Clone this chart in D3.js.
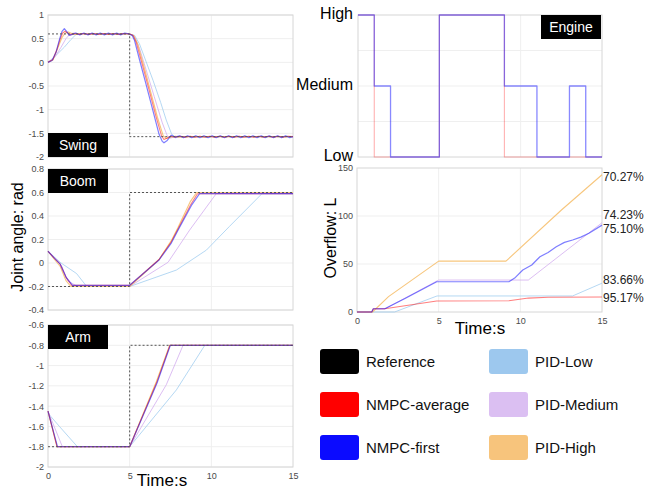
<!DOCTYPE html>
<html>
<head>
<meta charset="utf-8">
<script src="https://cdn.jsdelivr.net/npm/d3@7"></script>
<style>
    html, body { margin: 0; padding: 0; background: #fff; }
    svg { display: block; font-family: "Liberation Sans", Arial, sans-serif; }
    .tick text { fill: #4a4a4a; font-size: 9px; }
    .box { fill: none; stroke: #d6d6d6; stroke-width: 1; }
    .grid line { stroke: #efefef; stroke-width: 1; }
</style>
</head>
<body>
<svg id="chart" width="647" height="491"></svg>
<script>
// ============================================================
// DATI
// ============================================================
const SERIES = ["Reference", "NMPC-average", "NMPC-first", "PID-Low", "PID-Medium", "PID-High"];
const LEGEND_COLORS = ["#000000", "#ff0000", "#0b0bff", "#9dc8ee", "#dbbff2", "#f7c47c"];

// --- Swing (rad) ---
const swingRef = [[0, 0.6], [5, 0.6], [5, -1.57], [15, -1.57]];
const swingFirst = [[0, 0], [0.25, 0.04], [0.5, 0.22], [0.7, 0.48], [0.85, 0.65], [1.0, 0.71], [1.15, 0.65], [1.3, 0.57],
    [1.5, 0.59], [1.7, 0.62], [1.95, 0.58], [2.2, 0.62], [2.45, 0.58], [2.7, 0.62], [2.95, 0.58], [3.2, 0.62], [3.45, 0.58],
    [3.7, 0.62], [3.95, 0.58], [4.2, 0.62], [4.45, 0.58], [4.7, 0.62], [4.95, 0.6], [5.15, 0.57], [5.3, 0.46], [5.6, 0.06],
    [6.0, -0.46], [6.4, -0.99], [6.8, -1.52], [7.0, -1.67], [7.1, -1.7], [7.3, -1.65], [7.55, -1.54], [7.8, -1.58],
    [8.05, -1.55], [8.3, -1.59], [8.55, -1.55], [8.8, -1.59], [9.05, -1.55], [9.3, -1.59], [9.55, -1.55], [9.8, -1.59],
    [10.05, -1.55], [10.3, -1.59], [10.55, -1.55], [10.8, -1.59], [11.05, -1.55], [11.3, -1.59], [11.55, -1.55], [11.8, -1.59],
    [12.05, -1.55], [12.3, -1.59], [12.55, -1.55], [12.8, -1.59], [13.05, -1.55], [13.3, -1.59], [13.55, -1.55], [13.8, -1.59],
    [14.05, -1.55], [14.3, -1.59], [14.55, -1.55], [14.8, -1.59], [15, -1.57]];
const swingAvg = [[0, 0], [0.3, 0.06], [0.55, 0.28], [0.75, 0.5], [0.9, 0.62], [1.05, 0.66], [1.2, 0.62], [1.35, 0.58],
    [1.6, 0.61], [1.9, 0.59], [2.2, 0.61], [2.5, 0.59], [2.8, 0.61], [3.1, 0.59], [3.4, 0.61], [3.7, 0.59], [4.0, 0.61],
    [4.3, 0.59], [4.6, 0.61], [5.0, 0.6], [5.2, 0.57], [5.4, 0.42], [5.8, -0.08], [6.2, -0.6], [6.6, -1.13], [6.95, -1.55],
    [7.1, -1.63], [7.3, -1.6], [7.5, -1.56], [7.8, -1.58], [8.1, -1.56], [8.4, -1.58], [8.7, -1.56], [9.0, -1.58],
    [9.3, -1.56], [9.6, -1.58], [9.9, -1.56], [10.2, -1.58], [10.5, -1.56], [10.8, -1.58], [11.1, -1.56], [11.4, -1.58],
    [11.7, -1.56], [12.0, -1.58], [12.3, -1.56], [12.6, -1.58], [12.9, -1.56], [13.2, -1.58], [13.5, -1.56], [13.8, -1.58],
    [14.1, -1.56], [14.4, -1.58], [14.7, -1.56], [15, -1.57]];
const swingHigh = [[0, 0], [0.3, 0.05], [0.6, 0.3], [0.85, 0.52], [1.05, 0.62], [1.25, 0.64], [1.45, 0.61], [1.65, 0.59],
    [1.9, 0.61], [2.2, 0.6], [5.0, 0.6], [5.25, 0.56], [5.5, 0.38], [5.9, -0.12], [6.3, -0.64], [6.7, -1.16], [7.05, -1.55],
    [7.25, -1.61], [7.5, -1.58], [7.8, -1.56], [8.1, -1.58], [8.4, -1.57], [15, -1.57]];
const swingMed = [[0, 0], [0.4, 0.1], [0.8, 0.32], [1.1, 0.5], [1.35, 0.6], [1.6, 0.62], [1.9, 0.6], [5.0, 0.6],
    [5.3, 0.55], [5.6, 0.3], [6.0, -0.15], [6.5, -0.72], [7.0, -1.28], [7.3, -1.55], [7.5, -1.6], [7.8, -1.57], [15, -1.57]];
const swingLow = [[0, 0], [0.5, 0.15], [1.0, 0.32], [1.4, 0.48], [1.75, 0.6], [2.1, 0.61], [2.5, 0.6], [5.0, 0.6],
    [5.3, 0.57], [5.6, 0.39], [6.0, 0.02], [6.43, -0.38], [6.9, -0.85], [7.24, -1.22], [7.55, -1.5], [7.8, -1.6],
    [8.0, -1.57], [15, -1.57]];

// --- Boom (rad) ---
const boomRef = [[0, -0.2], [5, -0.2], [5, 0.6], [15, 0.6]];
const boomFirst = [[0, 0.1], [0.4, 0.04], [0.75, -0.01], [1.1, -0.12], [1.5, -0.19], [5, -0.19], [6.8, 0.026],
    [7.55, 0.17], [7.96, 0.28], [8.78, 0.49], [9.28, 0.59], [15, 0.59]];
const boomAvg = [[0, 0.1], [0.4, 0.04], [0.75, -0.01], [1.1, -0.12], [1.45, -0.19], [5, -0.19], [6.8, 0.03],
    [7.55, 0.18], [7.96, 0.29], [8.75, 0.5], [9.15, 0.59], [15, 0.59]];
const boomHigh = [[0, 0.1], [0.4, 0.03], [0.75, -0.03], [1.1, -0.15], [1.4, -0.2], [5, -0.2], [6.8, 0.03],
    [7.55, 0.19], [7.95, 0.3], [8.7, 0.52], [9.1, 0.6], [15, 0.6]];
const boomMed = [[0, 0.1], [0.5, 0.03], [0.85, -0.03], [1.2, -0.15], [1.8, -0.2], [5, -0.2], [7.35, 0.006],
    [8.67, 0.28], [10.3, 0.59], [15, 0.59]];
const boomLow = [[0, 0.1], [0.8, 0.0], [1.75, -0.09], [2.37, -0.2], [5, -0.2], [7.86, -0.06], [9.7, 0.11],
    [11.1, 0.31], [13.1, 0.59], [15, 0.59]];

// --- Arm (rad) ---
const armRef = [[0, -1.8], [5, -1.8], [5, -0.8], [15, -0.8]];
const armFirst = [[0, -1.45], [0.58, -1.8], [5, -1.8], [6.67, -1.175], [7.49, -0.8], [15, -0.8]];
const armAvg = [[0, -1.45], [0.55, -1.8], [5, -1.8], [6.65, -1.17], [7.47, -0.8], [15, -0.8]];
const armHigh = [[0, -1.45], [0.55, -1.8], [5, -1.8], [6.63, -1.16], [7.45, -0.8], [15, -0.8]];
const armMed = [[0, -1.45], [0.88, -1.8], [5, -1.8], [7.24, -1.19], [8.27, -0.8], [15, -0.8]];
const armLow = [[0, -1.47], [0.7, -1.6], [1.8, -1.8], [5, -1.8], [7.86, -1.24], [9.6, -0.8], [15, -0.8]];

// --- Engine (0 = Low, 1 = Medium, 2 = High) ---
const engineLevels = ["Low", "Medium", "High"];
const engineFirst = [[0, 2], [1, 1], [2, 0], [5, 2], [9, 1], [11, 0], [13, 1], [14, 0], [15, 0]];
const engineAvg = [[0, 2], [1, 0], [5, 2], [9, 0], [15, 0]];

// --- Overflow (L) ---
const ovHigh = [[0, 0], [0.95, 0], [1.93, 16], [5, 53], [9.12, 53], [12.5, 106], [15, 143]];
const ovFirst = [[0, 0], [0.9, 0], [1.0, 3.4], [1.7, 3.4], [2.94, 14], [4.88, 31.5], [9.3, 31.5], [9.7, 36],
    [10.15, 43.7], [10.7, 49], [11.2, 57.6], [11.7, 62], [12.2, 68], [12.7, 72.5], [13.2, 75], [13.7, 78],
    [14.2, 82], [15, 90.5]];
const ovAvg = [[0, 0], [0.9, 0], [1.0, 3.4], [1.7, 3.4], [4.88, 11.5], [9.3, 11.7], [10.5, 14.5], [11.7, 15.3], [15, 15.6]];
const ovMed = [[0, 0], [0.9, 0], [1.0, 3], [1.7, 3.2], [5, 33.3], [10.49, 33.3], [15, 93]];
const ovLow = [[0, 0], [2.3, 0], [4.9, 16.7], [13.2, 16.7], [15, 30]];
const ovLabels = ["70.27%", "74.23%", "75.10%", "83.66%", "95.17%"];
const ovLabelValues = [141, 101, 86.5, 33, 14.6];

// ticks
const timeTicks = [0, 5, 10, 15];
const swingTicks = [1, 0.5, 0, -0.5, -1, -1.5, -2];
const boomTicks = [0.8, 0.6, 0.4, 0.2, 0, -0.2, -0.4];
const armTicks = [-0.6, -0.8, -1, -1.2, -1.4, -1.6, -1.8, -2];
const ovTicks = [0, 50, 100, 150];

// ============================================================
// STILI LINEE
// ============================================================
const lineStyle = {
    "PID-Low": { stroke: "#9ccbef", width: 1, opacity: 0.75 },
    "PID-Medium": { stroke: "#d6b3f0", width: 1, opacity: 0.85 },
    "PID-High": { stroke: "#f5b85c", width: 1.1, opacity: 0.8 },
    "NMPC-average": { stroke: "#ff0000", width: 1.1, opacity: 0.5 },
    "NMPC-first": { stroke: "#1414ff", width: 1.2, opacity: 0.55 },
};

const svg = d3.select("#chart");

function drawPanel(cfg) {
    const x = d3.scaleLinear().domain([0, 15]).range([cfg.x0, cfg.x1]);
    const y = d3.scaleLinear().domain(cfg.yDomain).range([cfg.y1, cfg.y0]);
    const g = svg.append("g");

    // griglia
    const grid = g.append("g").attr("class", "grid");
    grid.selectAll("line.v").data(cfg.xGrid).enter().append("line")
        .attr("x1", (d) => x(d)).attr("x2", (d) => x(d))
        .attr("y1", cfg.y0).attr("y2", cfg.y1);
    grid.selectAll("line.h").data(cfg.yGrid).enter().append("line")
        .attr("x1", cfg.x0).attr("x2", cfg.x1)
        .attr("y1", (d) => y(d)).attr("y2", (d) => y(d));

    g.append("rect").attr("class", "box")
        .attr("x", cfg.x0).attr("y", cfg.y0)
        .attr("width", cfg.x1 - cfg.x0).attr("height", cfg.y1 - cfg.y0);

    // assi
    const yAxis = d3.axisLeft(y).tickValues(cfg.yTicks).tickSize(0).tickPadding(cfg.yPad || 4)
        .tickFormat(cfg.yFormat || ((d) => String(d)));
    const ya = g.append("g").attr("transform", `translate(${cfg.x0},0)`).call(yAxis);
    ya.select(".domain").remove();
    if (cfg.yTickStyle) cfg.yTickStyle(ya.selectAll(".tick text"));

    if (cfg.showX) {
        const xa = g.append("g").attr("transform", `translate(0,${cfg.y1})`)
            .call(d3.axisBottom(x).tickValues(timeTicks).tickSize(0).tickPadding(6).tickFormat((d) => String(d)));
        xa.select(".domain").remove();
    }

    // serie
    const line = d3.line().x((d) => x(d[0])).y((d) => y(d[1]));
    if (cfg.curve) line.curve(cfg.curve);
    cfg.series.forEach((s) => {
        const st = Object.assign({}, lineStyle[s.name], s.style || {});
        g.append("path").datum(s.data)
            .attr("d", line)
            .attr("fill", "none")
            .attr("stroke", st.stroke)
            .attr("stroke-width", st.width)
            .attr("stroke-opacity", st.opacity)
            .attr("stroke-linejoin", "round");
    });
    if (cfg.ref) {
        g.append("path").datum(cfg.ref)
            .attr("d", line)
            .attr("fill", "none")
            .attr("stroke", "#555")
            .attr("stroke-width", 1)
            .attr("stroke-dasharray", "2,2");
    }

    // etichetta nera
    if (cfg.label) {
        const b = cfg.label;
        g.append("rect").attr("x", b.x).attr("y", b.y).attr("width", b.w).attr("height", b.h).attr("fill", "#000");
        g.append("text").attr("x", b.x + b.w / 2).attr("y", b.y + b.h / 2 + 5)
            .attr("text-anchor", "middle").attr("fill", "#fff").attr("font-size", "14px")
            .text(b.text);
    }
    return { x, y, g };
}

// ============================================================
// PANNELLI A SINISTRA
// ============================================================
drawPanel({
    x0: 48, x1: 293, y0: 15, y1: 157, yDomain: [-2, 1],
    yTicks: swingTicks, yGrid: swingTicks, xGrid: [5, 10],
    ref: swingRef,
    series: [
        { name: "PID-Low", data: swingLow }, { name: "PID-Medium", data: swingMed },
        { name: "PID-High", data: swingHigh }, { name: "NMPC-average", data: swingAvg },
        { name: "NMPC-first", data: swingFirst },
    ],
    label: { x: 48, y: 133, w: 60, h: 24, text: "Swing" },
});

drawPanel({
    x0: 48, x1: 293, y0: 169, y1: 310, yDomain: [-0.4, 0.8],
    yTicks: boomTicks, yGrid: boomTicks, xGrid: [5, 10],
    ref: boomRef,
    series: [
        { name: "PID-Low", data: boomLow }, { name: "PID-Medium", data: boomMed },
        { name: "PID-High", data: boomHigh }, { name: "NMPC-average", data: boomAvg },
        { name: "NMPC-first", data: boomFirst },
    ],
    label: { x: 48, y: 169, w: 60, h: 24, text: "Boom" },
});

drawPanel({
    x0: 48, x1: 293, y0: 325, y1: 467, yDomain: [-2, -0.6],
    yTicks: armTicks, yGrid: armTicks, xGrid: [5, 10], showX: true,
    ref: armRef,
    series: [
        { name: "PID-Low", data: armLow }, { name: "PID-Medium", data: armMed },
        { name: "PID-High", data: armHigh }, { name: "NMPC-average", data: armAvg },
        { name: "NMPC-first", data: armFirst },
    ],
    label: { x: 48, y: 325, w: 60, h: 24, text: "Arm" },
});

svg.append("text")
    .attr("transform", "translate(23,237) rotate(-90)")
    .attr("text-anchor", "middle").attr("font-size", "16px").attr("fill", "#000")
    .text("Joint angle: rad");

svg.append("text")
    .attr("x", 162).attr("y", 486)
    .attr("text-anchor", "middle").attr("font-size", "17px").attr("fill", "#000")
    .text("Time:s");

// ============================================================
// ENGINE
// ============================================================
drawPanel({
    x0: 358, x1: 602, y0: 15, y1: 157, yDomain: [0, 2],
    yTicks: [0, 1, 2], yGrid: [0.5, 1, 1.5], xGrid: [5, 10], yPad: 5,
    yFormat: (d) => engineLevels[d],
    yTickStyle: (sel) => sel.style("font-size", "16px").style("fill", "#000").attr("dy", "0.2em"),
    curve: d3.curveStepAfter,
    series: [
        { name: "NMPC-average", data: engineAvg, style: { opacity: 0.3 } },
        { name: "NMPC-first", data: engineFirst, style: { opacity: 0.5, width: 1.3 } },
    ],
    label: { x: 541, y: 15, w: 60, h: 24, text: "Engine" },
});

// ============================================================
// OVERFLOW
// ============================================================
const ov = drawPanel({
    x0: 357, x1: 602, y0: 168, y1: 312, yDomain: [0, 150],
    yTicks: ovTicks, yGrid: [50, 100], xGrid: [5, 10], showX: true,
    series: [
        { name: "PID-Low", data: ovLow }, { name: "PID-Medium", data: ovMed },
        { name: "PID-High", data: ovHigh }, { name: "NMPC-average", data: ovAvg },
        { name: "NMPC-first", data: ovFirst },
    ],
});

ov.g.selectAll("text.pct").data(ovLabels).enter().append("text")
    .attr("class", "pct")
    .attr("x", 603)
    .attr("y", (d, i) => ov.y(ovLabelValues[i]) + 4)
    .attr("font-size", "12px").attr("fill", "#222")
    .text((d) => d);

svg.append("text")
    .attr("transform", "translate(336,238) rotate(-90)")
    .attr("text-anchor", "middle").attr("font-size", "16px").attr("fill", "#000")
    .text("Overflow: L");

svg.append("text")
    .attr("x", 480).attr("y", 334)
    .attr("text-anchor", "middle").attr("font-size", "17px").attr("fill", "#000")
    .text("Time:s");

// ============================================================
// LEGENDA
// ============================================================
const legend = svg.append("g");
const items = legend.selectAll("g").data(SERIES).enter().append("g")
    .attr("transform", (d, i) => `translate(${i < 3 ? 320 : 489},${349 + (i % 3) * 43})`);
items.append("rect")
    .attr("width", 39).attr("height", 25).attr("rx", 3)
    .attr("fill", (d, i) => LEGEND_COLORS[i]);
items.append("text")
    .attr("x", 46).attr("y", 18)
    .attr("font-size", "15px").attr("fill", "#111")
    .text((d) => d);
</script>
</body>
</html>
